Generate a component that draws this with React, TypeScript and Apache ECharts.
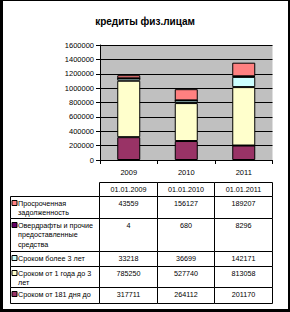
import React, { useEffect, useRef } from "react";
import * as echarts from "echarts";

const categories = ["2009", "2010", "2011"];
const dateHeaders = ["01.01.2009", "01.01.2010", "01.01.2011"];
const title = "кредиты физ.лицам";

// stacking order: bottom to top
const seriesNames = [
  "Сроком от 181 дня до",
  "Сроком от 1 года до 3\nлет",
  "Сроком более 3 лет",
  "Овердрафты и прочие\nпредоставленные\nсредства",
  "Просроченная\nзадолженность",
];
const from181days = [317711, 264112, 201170];
const from1to3years = [785250, 527740, 813058];
const over3years = [33218, 36699, 142171];
const overdrafts = [4, 680, 8296];
const overdue = [43559, 156127, 189207];
const seriesValues = [from181days, from1to3years, over3years, overdrafts, overdue];
const seriesColors = ["#993366", "#FFFFCC", "#CCFFFF", "#660066", "#FF8080"];

const yMin = 0;
const yMax = 1600000;
const yStep = 200000;

const FONT = '"Liberation Sans", Arial, sans-serif';

export default function App() {
  const ref = useRef<HTMLDivElement>(null);
  useEffect(() => {
    if (!ref.current) return;
    const chart = echarts.init(ref.current, null, { renderer: "svg" });

    const tableLeft = 10.5;
    const colX = [99.5, 157.5, 214.5, 272.5];
    const headerTop = 182.5;
    const headerBottom = 196.5;
    const rowHeights = [22, 33, 15, 21, 16];
    const graphic: any[] = [];
    const fs = 7.2;
    const lh = 9.5;

    graphic.push({ type: "rect", shape: { x: 0, y: 0, width: 3, height: 312 }, style: { fill: "#000" } });
    graphic.push({ type: "rect", shape: { x: 0, y: 0, width: 290, height: 1 }, style: { fill: "#000" } });
    graphic.push({ type: "rect", shape: { x: 288, y: 0, width: 2, height: 312 }, style: { fill: "#000" } });
    graphic.push({ type: "rect", shape: { x: 0, y: 309, width: 290, height: 3 }, style: { fill: "#000" } });

    for (let c = 0; c < 3; c++) {
      graphic.push({
        type: "rect",
        shape: { x: colX[c], y: headerTop, width: colX[c + 1] - colX[c], height: headerBottom - headerTop },
        style: { fill: "#fff", stroke: "#000", lineWidth: 1 },
      });
      graphic.push({
        type: "text",
        x: (colX[c] + colX[c + 1]) / 2,
        y: headerTop + 3,
        style: { text: dateHeaders[c], fontSize: fs, fontFamily: FONT, fill: "#000", align: "center", verticalAlign: "top" },
      });
    }

    let top = headerBottom;
    for (let r = 0; r < seriesNames.length; r++) {
      const si = seriesNames.length - 1 - r;
      const h = rowHeights[r];
      graphic.push({
        type: "rect",
        shape: { x: tableLeft, y: top, width: colX[0] - tableLeft, height: h },
        style: { fill: "#fff", stroke: "#000", lineWidth: 1 },
      });
      graphic.push({
        type: "rect",
        shape: { x: 12, y: top + 4, width: 5, height: 5 },
        style: { fill: seriesColors[si], stroke: "#000", lineWidth: 1 },
      });
      graphic.push({
        type: "text",
        x: 18,
        y: top + 2,
        style: { text: seriesNames[si], fontSize: fs, fontFamily: FONT, fill: "#000", lineHeight: lh, verticalAlign: "top" },
      });
      for (let c = 0; c < 3; c++) {
        graphic.push({
          type: "rect",
          shape: { x: colX[c], y: top, width: colX[c + 1] - colX[c], height: h },
          style: { fill: "#fff", stroke: "#000", lineWidth: 1 },
        });
        graphic.push({
          type: "text",
          x: (colX[c] + colX[c + 1]) / 2,
          y: top + 2,
          style: { text: String(seriesValues[si][c]), fontSize: fs, fontFamily: FONT, fill: "#000", lineHeight: lh, align: "center", verticalAlign: "top" },
        });
      }
      top += h;
    }

    chart.setOption({
      animation: false,
      backgroundColor: "#fff",
      title: {
        text: title,
        left: "center",
        top: 11,
        textStyle: { fontSize: 10, fontWeight: "bold", fontFamily: FONT, color: "#000" },
      },
      grid: {
        left: 100,
        right: 17.5,
        top: 45,
        bottom: 152,
        show: true,
        backgroundColor: "#C0C0C0",
        borderWidth: 0,
      },
      xAxis: {
        type: "category",
        data: categories,
        axisLine: { lineStyle: { color: "#000", width: 1 } },
        axisTick: { show: true, length: 4, lineStyle: { color: "#000" } },
        axisLabel: { fontSize: 7.5, fontFamily: FONT, color: "#000", margin: 8 },
      },
      yAxis: {
        type: "value",
        min: yMin,
        max: yMax,
        interval: yStep,
        axisLine: { show: true, lineStyle: { color: "#000", width: 1 } },
        axisTick: { show: true, length: 4, lineStyle: { color: "#000" } },
        axisLabel: { fontSize: 7.5, fontFamily: FONT, color: "#000", margin: 6, formatter: (v: number) => String(v) },
        splitLine: { show: true, lineStyle: { color: "#000", width: 1 } },
      },
      series: seriesNames.map((name, i) => ({
        name,
        type: "bar",
        stack: "total",
        barWidth: 23,
        data: seriesValues[i],
        itemStyle: { color: seriesColors[i], borderColor: "#000", borderWidth: 1 },
      })),
      graphic,
    });
    return () => chart.dispose();
  }, []);
  return (
    <div style={{ position: "fixed", left: 0, top: 0, width: 290, height: 312 }}>
      <div ref={ref} style={{ width: 290, height: 312 }} />
    </div>
  );
}
